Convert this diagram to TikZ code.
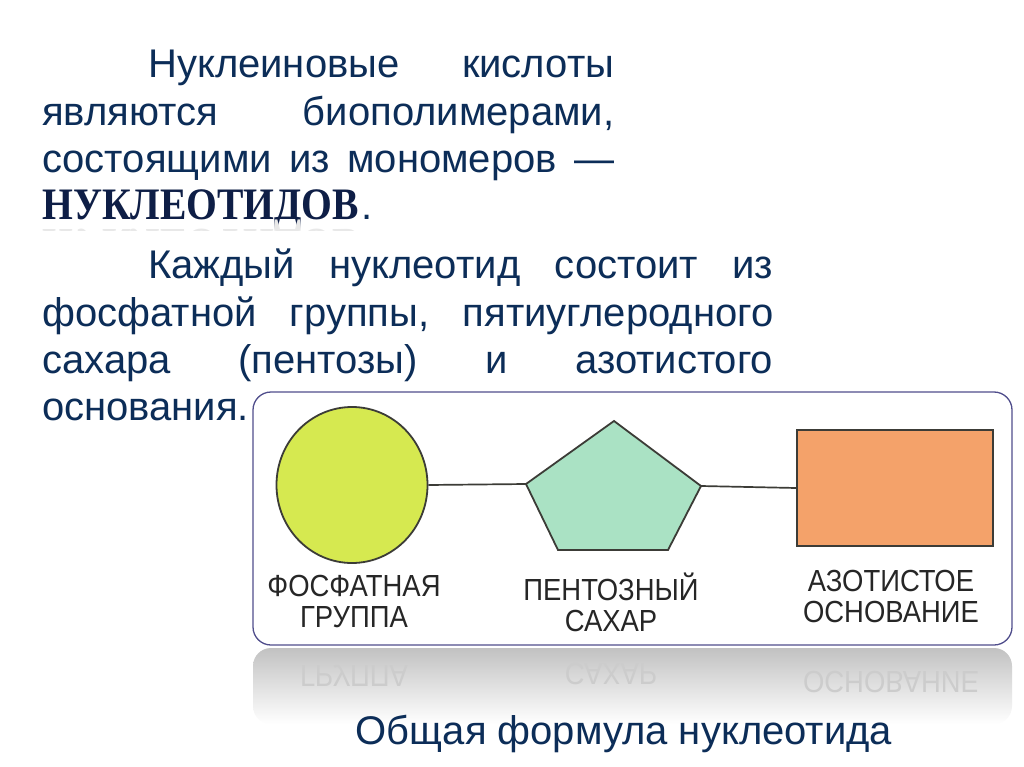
\documentclass[tikz,border=0pt]{standalone}
\usepackage{fontspec}
\setmainfont{Liberation Sans}
\newfontfamily\serifbold{Liberation Serif}[FakeStretch=0.88]
\newfontfamily\labelfont{Liberation Sans}[FakeStretch=0.9]
\usepackage{graphicx}
\usetikzlibrary{shapes.geometric}
\definecolor{navy}{RGB}{12,45,88}
\definecolor{navydark}{RGB}{14,30,70}
\definecolor{frame}{RGB}{80,78,140}
\definecolor{outl}{RGB}{60,60,55}
\definecolor{phos}{RGB}{214,233,80}
\definecolor{sugar}{RGB}{170,226,196}
\definecolor{basec}{RGB}{244,162,106}

\begin{document}
\begin{tikzpicture}[
	x=1pt, y=-1pt,
	txt/.style={font=\fontsize{40}{48}\selectfont, text=navy, inner sep=0pt, anchor=base west},
	bigword/.style={font=\serifbold\bfseries\fontsize{45}{48}\selectfont},
	partshape/.style={draw=outl, line width=1.8pt, inner sep=0pt},
	partlabel/.style={font=\labelfont\fontsize{30.5}{31}\selectfont, text=black!85, align=center, inner sep=0pt},
	mirror/.style={font=\labelfont\fontsize{30.5}{31}\selectfont, text=black!20, inner sep=0pt},
	link/.style={draw=outl, line width=1.7pt}
	]
	
	% --- фон ---
	\fill[white] (0,0) rectangle (1024,767);
	\useasboundingbox (0,0) rectangle (1024,767);
	
	% --- ТЕКСТ ---
	\node[txt] (t1) at (148,78) {\hbox to 466pt{Нуклеиновые \hfill кислоты}};
	\node[txt] (t2) at (42,126) {\hbox to 572pt{являются \hfill биополимерами,}};
	\node[txt] (t3) at (42,173) {\hbox to 572pt{состоящими \hfill из \hfill мономеров \hfill —}};
	\node[txt, bigword, text=navydark] (t4) at (42,219) {НУКЛЕОТИДОВ};
	\node[txt] (dot) at ([xshift=2pt]t4.base east) {.};
	% отражение
	\begin{scope}
		\clip (40,220) rectangle (362,231);
		\node[inner sep=0pt, anchor=north west, bigword, text=black!9] at (42,220) {\scalebox{1}[-1]{НУКЛЕОТИДОВ}};
	\end{scope}
	
	\node[txt] (t5) at (148,278) {\hbox to 625pt{Каждый \hfill нуклеотид \hfill состоит \hfill из}};
	\node[txt] (t6) at (42,326) {\hbox to 731pt{фосфатной \hfill группы, \hfill пятиуглеродного}};
	\node[txt] (t7) at (42,373) {\hbox to 731pt{сахара \hfill (пентозы) \hfill и \hfill азотистого}};
	\node[txt] (t8) at (42,420) {основания.};
	
	% --- РАМКА ---
	\shade[top color=black!24, bottom color=white, rounded corners=18pt] (253,648) rectangle (1012,724);
	\draw[frame, line width=1.3pt, fill=white, rounded corners=18pt] (253,392) rectangle (1012,645);
	
	% --- НУКЛЕОТИД ---
	\node[partshape, ellipse, fill=phos, minimum width=151pt, minimum height=156pt] (phosph) at (352,485) {};
	\draw[partshape, fill=sugar] (614,421) coordinate (sTop) -- (701,486) coordinate (sR)
		-- (668,550) -- (558,550) -- (526,484) coordinate (sL) -- cycle;
	\node[partshape, rectangle, fill=basec, minimum width=196pt, minimum height=116pt] (nbase) at (895,488) {};
	
	\draw[link] (phosph.east) -- (sL);
	\draw[link] (sR) -- (nbase.west);
	
	\node[partlabel] (lphos) at (354,601) {ФОСФАТНАЯ\\ГРУППА};
	\node[partlabel] (lsugar) at (611,602) {ПЕНТОЗНЫЙ\\САХАР};
	\node[partlabel] (lbase) at (891,596) {АЗОТИСТОЕ\\ОСНОВАНИЕ};
	
	% отражённые подписи
	\node[mirror] (rphos) at (354,676) {\scalebox{1}[-1]{ГРУППА}};
	\node[mirror] (rsugar) at (611,674) {\scalebox{1}[-1]{САХАР}};
	\node[mirror] (rbase) at (891,682) {\scalebox{1}[-1]{ОСНОВАНИЕ}};
	
	% --- ПОДПИСЬ ---
	\node[txt, anchor=base] (caption) at (624,744) {Общая формула нуклеотида};
	
\end{tikzpicture}
\end{document}
